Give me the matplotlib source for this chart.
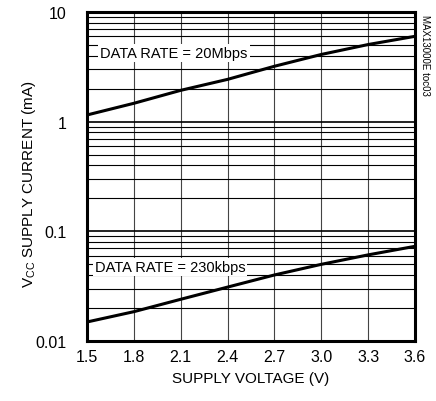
import matplotlib.pyplot as plt
from matplotlib.ticker import LogLocator, NullFormatter

plt.rcParams['font.family'] = ['Liberation Sans Narrow', 'Liberation Sans', 'DejaVu Sans']

# supply voltage (V)
voltage = [1.5, 1.8, 2.1, 2.4, 2.7, 3.0, 3.3, 3.6]
# supply current (mA) for the two data rates
current_20mbps = [1.15, 1.47, 1.93, 2.43, 3.2, 4.1, 5.05, 6.0]
current_230kbps = [0.0149, 0.0185, 0.024, 0.031, 0.040, 0.050, 0.061, 0.073]

x_ticks = [1.5, 1.8, 2.1, 2.4, 2.7, 3.0, 3.3, 3.6]
x_ticklabels = ['1.5', '1.8', '2.1', '2.4', '2.7', '3.0', '3.3', '3.6']
y_ticks = [0.01, 0.1, 1, 10]
y_ticklabels = ['0.01', '0.1', '1', '10']

fig = plt.figure(figsize=(4.36, 4.02), dpi=100)
ax = fig.add_axes([0.1995, 0.1493, 0.7525, 0.8184])

ax.plot(voltage, current_20mbps, color='black', linewidth=2.2, zorder=3)
ax.plot(voltage, current_230kbps, color='black', linewidth=2.2, zorder=3)

ax.set_yscale('log')
ax.set_xlim(1.5, 3.6)
ax.set_ylim(0.01, 10)

ax.set_xticks(x_ticks)
ax.set_xticklabels(x_ticklabels)
ax.set_yticks(y_ticks)
ax.set_yticklabels(y_ticklabels)
ax.yaxis.set_minor_locator(LogLocator(base=10, subs=range(2, 10)))
ax.yaxis.set_minor_formatter(NullFormatter())

ax.tick_params(which='both', length=0, labelsize=11.5)
ax.tick_params(axis='x', pad=6)
ax.tick_params(axis='y', pad=15)
ax.grid(True, which='major', axis='y', color='black', linewidth=1.2)
ax.grid(True, which='minor', axis='y', color='black', linewidth=0.8)
ax.grid(True, which='major', axis='x', color='#444444', linewidth=0.8)

for s in ax.spines.values():
    s.set_linewidth(2.2)

ax.text(1.585, 4.2, 'DATA RATE = 20Mbps', fontsize=10.5, va='center', ha='left',
        bbox=dict(facecolor='white', edgecolor='none', pad=1.5), zorder=4)
ax.text(1.55, 0.047, 'DATA RATE = 230kbps', fontsize=10.5, va='center', ha='left',
        bbox=dict(facecolor='white', edgecolor='none', pad=1.5), zorder=4)

ax.set_xlabel('SUPPLY VOLTAGE (V)', fontsize=11, labelpad=5)
ax.set_ylabel('V$_{\\mathregular{CC}}$ SUPPLY CURRENT (mA)', fontsize=11)
ax.yaxis.set_label_coords(-0.15, 0.48)

fig.text(0.975, 0.963, 'MAX13000E toc03', rotation=270, fontsize=7, va='top', ha='center')

fig.savefig('out.png', dpi=100)
